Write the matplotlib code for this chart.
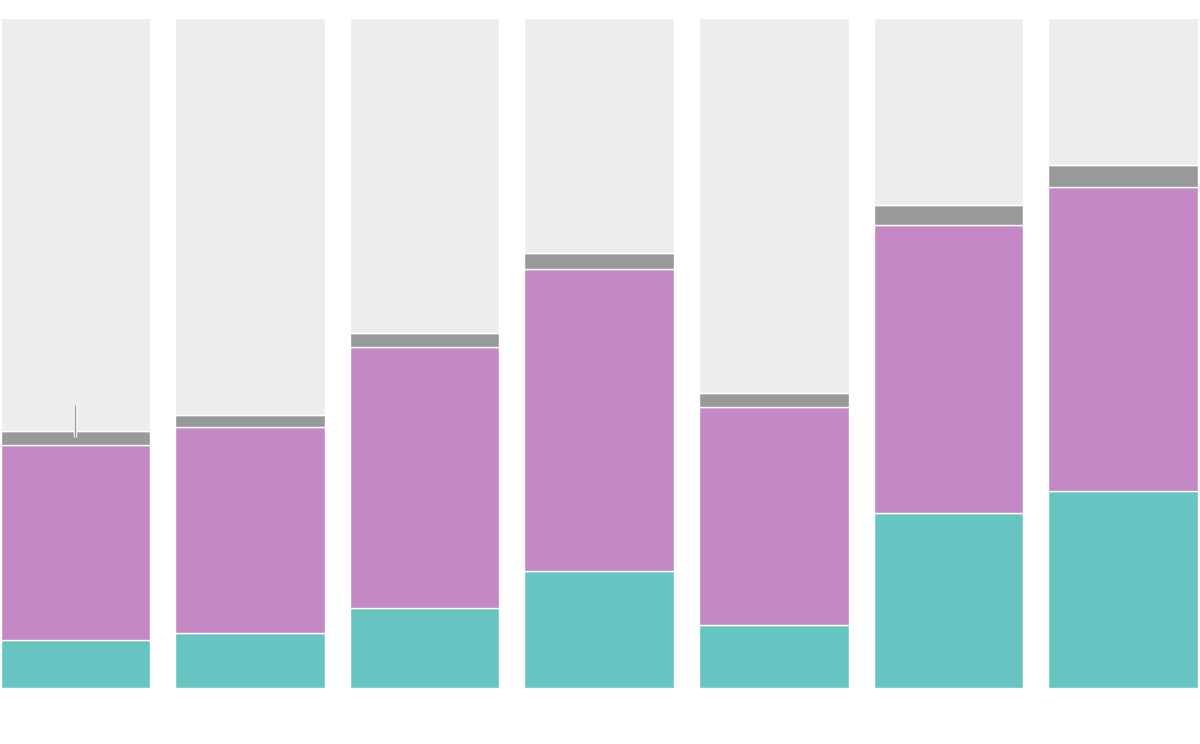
import matplotlib
matplotlib.use('Agg')
import matplotlib.pyplot as plt
import numpy as np

# values in percent (bottom to top)
teal   = [7.1, 8.2, 11.9, 17.5, 9.4, 26.1, 29.4]
purple = [29.2, 30.8, 39.0, 45.0, 32.5, 43.0, 45.4]
grey   = [2.1, 1.7, 2.1, 2.4, 2.1, 3.0, 3.3]
rest   = [100 - a - b - c for a, b, c in zip(teal, purple, grey)]

# little marker line on the first bar
mark_lo, mark_hi = 37.5, 42.2

colors = ['#66c5c0', '#c388c5', '#999999', '#ededed']

fig = plt.figure(figsize=(12, 7.44), dpi=100, facecolor='white')
ax = fig.add_axes([0, 0, 1, 1])

x = np.arange(len(teal))
w = 0.856
bottom = np.zeros(len(teal))
for vals, c in zip([teal, purple, grey, rest], colors):
    ax.bar(x, vals, w, bottom=bottom, color=c, edgecolor='white', linewidth=1.0)
    bottom += np.array(vals)

ax.plot([x[0], x[0]], [mark_lo, mark_hi], color='white', lw=2.5, solid_capstyle='butt')
ax.plot([x[0], x[0]], [mark_lo, mark_hi], color='#999999', lw=1.0, solid_capstyle='butt')

ax.set_xlim(-0.432, 6.441)
ax.set_ylim(-8.36, 102.69)
ax.axis('off')

plt.savefig('out.png', dpi=100, facecolor='white')
